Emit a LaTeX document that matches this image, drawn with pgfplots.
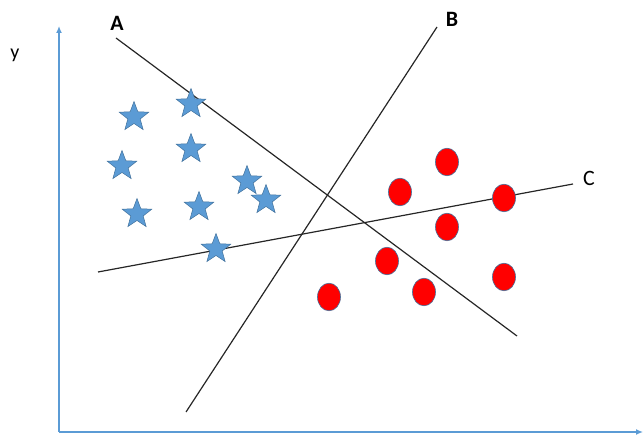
\documentclass[border=0pt]{standalone}
\usepackage{fontspec}
\setmainfont{Carlito}
\usepackage{pgfplots}
\pgfplotsset{compat=1.18}
\usetikzlibrary{arrows.meta}

\definecolor{officeblue}{HTML}{5B9BD5}
\definecolor{edgeblue}{HTML}{41719C}

% filled five-pointed star
\pgfdeclareplotmark{fstar}{%
  \pgfpathmoveto{\pgfpointpolar{90}{\pgfplotmarksize}}%
  \pgfpathlineto{\pgfpointpolar{126}{0.42\pgfplotmarksize}}%
  \pgfpathlineto{\pgfpointpolar{162}{\pgfplotmarksize}}%
  \pgfpathlineto{\pgfpointpolar{198}{0.42\pgfplotmarksize}}%
  \pgfpathlineto{\pgfpointpolar{234}{\pgfplotmarksize}}%
  \pgfpathlineto{\pgfpointpolar{270}{0.42\pgfplotmarksize}}%
  \pgfpathlineto{\pgfpointpolar{306}{\pgfplotmarksize}}%
  \pgfpathlineto{\pgfpointpolar{342}{0.42\pgfplotmarksize}}%
  \pgfpathlineto{\pgfpointpolar{18}{\pgfplotmarksize}}%
  \pgfpathlineto{\pgfpointpolar{54}{0.42\pgfplotmarksize}}%
  \pgfpathclose
  \pgfusepathqfillstroke
}

\begin{document}
\begin{tikzpicture}
\begin{axis}[
    hide axis,
    scale only axis,
    width=644bp, height=438bp,
    xmin=0, xmax=644, ymin=0, ymax=438,
    clip=false,
]
% axes arrows
\addplot[officeblue, line width=1.3bp, -{Latex[length=7bp,width=6bp]}] coordinates {(59,6) (59,412)};
\addplot[officeblue, line width=1.3bp, -{Latex[length=7bp,width=6bp]}] coordinates {(59,6) (643,6)};

% separating lines
\addplot[black!85, line width=1.2bp] coordinates {(116,400) (517,102)};
\addplot[black!85, line width=1.2bp] coordinates {(186,26) (437,411)};
\addplot[black!85, line width=1.2bp] coordinates {(98,166) (573,254)};

% class 1: stars
\addplot[only marks, mark=fstar, mark size=15.5bp,
  mark options={fill=officeblue, draw=edgeblue, line width=0.5bp}] coordinates {
  (134,321) (191,334) (122,272) (191,289) (247,257)
  (266,238) (137,224) (199,231) (216,189)
};

% class 2: circles
\addplot[only marks, mark=*, mark size=11.5bp,
  mark options={fill=red, draw=edgeblue, line width=0.6bp, yscale=1.2}] coordinates {
  (447,276) (400,246) (504,240) (447,211) (387,177)
  (504,161) (424,146) (329,141)
};

\node[font=\fontsize{20}{24}\selectfont] at (axis cs:15,383) {y};
\node[font=\fontsize{22}{26}\selectfont\bfseries] at (axis cs:117,415) {A};
\node[font=\fontsize{22}{26}\selectfont\bfseries] at (axis cs:452,419) {B};
\node[font=\fontsize{22}{26}\selectfont] at (axis cs:589,260) {C};
\end{axis}
\pgfresetboundingbox
\path (0,0) rectangle (644bp,438bp);
\end{tikzpicture}
\end{document}
